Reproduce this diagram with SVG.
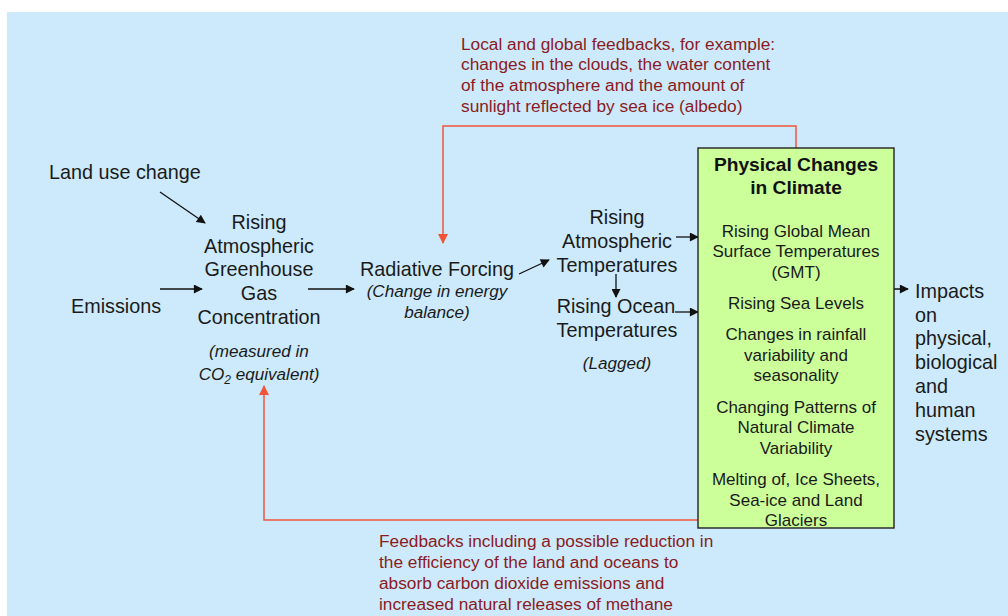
<svg xmlns="http://www.w3.org/2000/svg" width="1008" height="616" viewBox="0 0 1008 616">
  <style>
    .lbl { font-family: "Liberation Sans", Arial, sans-serif; font-size: 19.8px; fill: #1a1a1a; }
    .c { text-anchor: middle; }
    .it { font-family: "Liberation Sans", Arial, sans-serif; font-size: 17.1px; font-style: italic; fill: #1a1a1a; text-anchor: middle; }
    .box { font-family: "Liberation Sans", Arial, sans-serif; font-size: 17px; fill: #1a1a1a; text-anchor: middle; }
    .ttl { font-family: "Liberation Sans", Arial, sans-serif; font-size: 19.2px; font-weight: bold; fill: #111; text-anchor: middle; }
    .note { font-family: "Liberation Sans", Arial, sans-serif; font-size: 17.3px; fill: #8b1a22; }
    .blk { fill: none; stroke: #111; stroke-width: 1.3; }
    .red { fill: none; stroke: #f0553a; stroke-width: 1.5; }
  </style>
  <defs>
    <marker id="ah" viewBox="0 0 10 10" refX="9" refY="5" markerWidth="11" markerHeight="9" markerUnits="userSpaceOnUse" orient="auto">
      <path d="M0,0 L10,5 L0,10 z" fill="#111"/>
    </marker>
    <marker id="ahr" viewBox="0 0 10 10" refX="9" refY="5" markerWidth="12" markerHeight="10" markerUnits="userSpaceOnUse" orient="auto">
      <path d="M0,0 L10,5 L0,10 z" fill="#f0553a"/>
    </marker>
  </defs>

  <rect x="0" y="0" width="1008" height="616" fill="#ffffff"/>
  <rect x="7" y="12" width="1001" height="604" fill="#cceafc"/>

  <!-- connectors -->
  <g id="connectors">
    <line class="blk" x1="160" y1="192" x2="205" y2="223" marker-end="url(#ah)"/>
    <line class="blk" x1="160" y1="289" x2="202" y2="289" marker-end="url(#ah)"/>
    <line class="blk" x1="308" y1="289" x2="354" y2="289" marker-end="url(#ah)"/>
    <line class="blk" x1="519" y1="274" x2="549" y2="260" marker-end="url(#ah)"/>
    <line class="blk" x1="676" y1="237" x2="698" y2="237" marker-end="url(#ah)"/>
    <line class="blk" x1="616" y1="274" x2="616" y2="297" marker-end="url(#ah)"/>
    <line class="blk" x1="675" y1="312" x2="698" y2="312" marker-end="url(#ah)"/>
    <line class="blk" x1="870" y1="289" x2="908" y2="289" marker-end="url(#ah)"/>
    <polyline class="red" points="796,148 796,126 443,126 443,243" marker-end="url(#ahr)"/>
    <polyline class="red" points="698,520 264,520 264,386" marker-end="url(#ahr)"/>
  </g>

  <g id="land-use">
    <text class="lbl" x="49" y="179">Land use change</text>
  </g>

  <g id="emissions">
    <text class="lbl" x="71" y="313">Emissions</text>
  </g>

  <g id="ghg-concentration">
    <text class="lbl c" x="259" y="229">Rising</text>
    <text class="lbl c" x="259" y="253">Atmospheric</text>
    <text class="lbl c" x="259" y="276">Greenhouse</text>
    <text class="lbl c" x="259" y="300">Gas</text>
    <text class="lbl c" x="259" y="324">Concentration</text>
    <text class="it" x="259" y="357">(measured in</text>
    <text class="it" x="259" y="380">CO<tspan font-size="12" dy="4">2</tspan><tspan dy="-4"> equivalent)</tspan></text>
  </g>

  <g id="radiative-forcing">
    <text class="lbl c" x="437" y="276">Radiative Forcing</text>
    <text class="it" x="437" y="297">(Change in energy</text>
    <text class="it" x="437" y="318">balance)</text>
  </g>

  <g id="atmospheric-temperatures">
    <text class="lbl c" x="617" y="224">Rising</text>
    <text class="lbl c" x="617" y="248">Atmospheric</text>
    <text class="lbl c" x="617" y="272">Temperatures</text>
  </g>

  <g id="ocean-temperatures">
    <text class="lbl c" x="616" y="313">Rising Ocean</text>
    <text class="lbl c" x="617" y="337">Temperatures</text>
    <text class="it" x="617" y="369">(Lagged)</text>
  </g>

  <g id="physical-changes">
    <rect x="698" y="148" width="196" height="380" fill="#ccff99" stroke="#222" stroke-width="1.4"/>
    <text class="ttl" x="796" y="171">Physical Changes</text>
    <text class="ttl" x="796" y="194">in Climate</text>
    <text class="box" x="796" y="237">Rising Global Mean</text>
    <text class="box" x="796" y="257">Surface Temperatures</text>
    <text class="box" x="796" y="278">(GMT)</text>
    <text class="box" x="796" y="309">Rising Sea Levels</text>
    <text class="box" x="796" y="340">Changes in rainfall</text>
    <text class="box" x="796" y="361">variability and</text>
    <text class="box" x="796" y="381">seasonality</text>
    <text class="box" x="796" y="413">Changing Patterns of</text>
    <text class="box" x="796" y="433">Natural Climate</text>
    <text class="box" x="796" y="454">Variability</text>
    <text class="box" x="796" y="485">Melting of, Ice Sheets,</text>
    <text class="box" x="796" y="506">Sea-ice and Land</text>
    <text class="box" x="796" y="526">Glaciers</text>
  </g>

  <g id="impacts">
    <text class="lbl" x="915" y="298">Impacts</text>
    <text class="lbl" x="915" y="322">on</text>
    <text class="lbl" x="915" y="345">physical,</text>
    <text class="lbl" x="915" y="369">biological</text>
    <text class="lbl" x="915" y="393">and</text>
    <text class="lbl" x="915" y="417">human</text>
    <text class="lbl" x="915" y="441">systems</text>
  </g>

  <g id="local-global-feedbacks">
    <text class="note" x="461" y="50">Local and global feedbacks, for example:</text>
    <text class="note" x="461" y="70">changes in the clouds, the water content</text>
    <text class="note" x="461" y="91">of the atmosphere and the amount of</text>
    <text class="note" x="461" y="112">sunlight reflected by sea ice (albedo)</text>
  </g>

  <g id="carbon-feedbacks">
    <text class="note" x="379" y="547">Feedbacks including a possible reduction in</text>
    <text class="note" x="379" y="568">the efficiency of the land and oceans to</text>
    <text class="note" x="379" y="589">absorb carbon dioxide emissions and</text>
    <text class="note" x="379" y="610">increased natural releases of methane</text>
  </g>
</svg>
